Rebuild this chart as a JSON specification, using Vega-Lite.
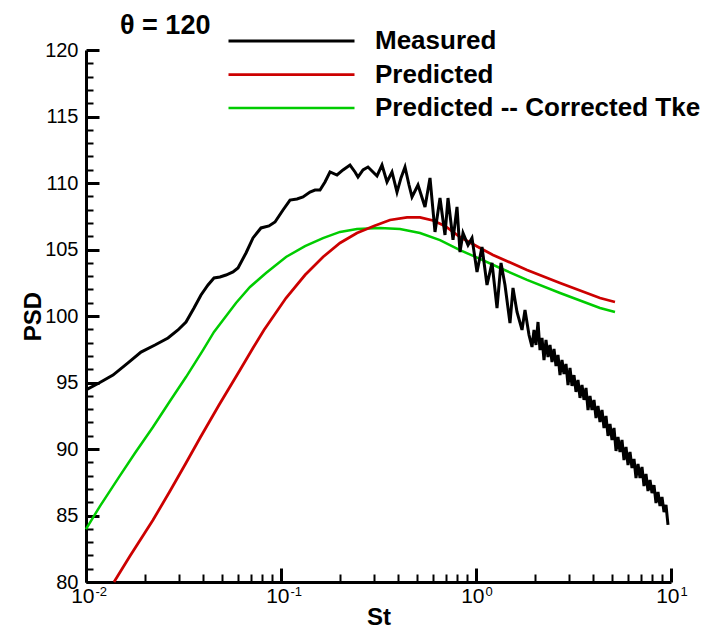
{
  "$schema": "https://vega.github.io/schema/vega-lite/v6.json",
  "width": 585,
  "height": 532,
  "autosize": {"type": "none"},
  "padding": {"left": 86, "top": 50, "right": 48, "bottom": 51},
  "background": "white",
  "title": {"text": "θ = 120", "anchor": "start", "frame": "group", "dx": 34, "dy": 22, "offset": 10, "fontSize": 27, "font": "Liberation Sans", "fontWeight": "bold", "color": "black"},
  "config": {
    "view": {"stroke": null},
    "axis": {"labelFont": "Liberation Sans", "titleFont": "Liberation Sans", "labelColor": "black", "titleColor": "black", "domainColor": "black", "grid": false}
  },
  "data": {"values": [
    {"s":"Predicted -- Corrected Tke","St":0.01,"PSD":83.98},
    {"s":"Predicted -- Corrected Tke","St":0.0118,"PSD":85.71},
    {"s":"Predicted -- Corrected Tke","St":0.01476,"PSD":87.89},
    {"s":"Predicted -- Corrected Tke","St":0.01784,"PSD":89.7},
    {"s":"Predicted -- Corrected Tke","St":0.02206,"PSD":91.65},
    {"s":"Predicted -- Corrected Tke","St":0.02697,"PSD":93.61},
    {"s":"Predicted -- Corrected Tke","St":0.03257,"PSD":95.41},
    {"s":"Predicted -- Corrected Tke","St":0.03981,"PSD":97.44},
    {"s":"Predicted -- Corrected Tke","St":0.04533,"PSD":98.8},
    {"s":"Predicted -- Corrected Tke","St":0.05878,"PSD":100.98},
    {"s":"Predicted -- Corrected Tke","St":0.06934,"PSD":102.18},
    {"s":"Predicted -- Corrected Tke","St":0.08377,"PSD":103.23},
    {"s":"Predicted -- Corrected Tke","St":0.1061,"PSD":104.44},
    {"s":"Predicted -- Corrected Tke","St":0.1328,"PSD":105.26},
    {"s":"Predicted -- Corrected Tke","St":0.1642,"PSD":105.86},
    {"s":"Predicted -- Corrected Tke","St":0.2007,"PSD":106.32},
    {"s":"Predicted -- Corrected Tke","St":0.2453,"PSD":106.54},
    {"s":"Predicted -- Corrected Tke","St":0.3219,"PSD":106.62},
    {"s":"Predicted -- Corrected Tke","St":0.4076,"PSD":106.54},
    {"s":"Predicted -- Corrected Tke","St":0.5162,"PSD":106.24},
    {"s":"Predicted -- Corrected Tke","St":0.6537,"PSD":105.71},
    {"s":"Predicted -- Corrected Tke","St":0.8279,"PSD":104.96},
    {"s":"Predicted -- Corrected Tke","St":1.048,"PSD":104.29},
    {"s":"Predicted -- Corrected Tke","St":1.328,"PSD":103.61},
    {"s":"Predicted -- Corrected Tke","St":1.826,"PSD":102.71},
    {"s":"Predicted -- Corrected Tke","St":2.697,"PSD":101.73},
    {"s":"Predicted -- Corrected Tke","St":4.324,"PSD":100.6},
    {"s":"Predicted -- Corrected Tke","St":5.162,"PSD":100.3},
    {"s":"Predicted","St":0.01392,"PSD":80.0},
    {"s":"Predicted","St":0.01681,"PSD":81.95},
    {"s":"Predicted","St":0.02206,"PSD":84.66},
    {"s":"Predicted","St":0.02697,"PSD":86.84},
    {"s":"Predicted","St":0.03257,"PSD":88.95},
    {"s":"Predicted","St":0.03842,"PSD":90.83},
    {"s":"Predicted","St":0.0481,"PSD":93.31},
    {"s":"Predicted","St":0.06163,"PSD":95.94},
    {"s":"Predicted","St":0.07185,"PSD":97.59},
    {"s":"Predicted","St":0.0818,"PSD":98.95},
    {"s":"Predicted","St":0.1061,"PSD":101.35},
    {"s":"Predicted","St":0.1328,"PSD":103.08},
    {"s":"Predicted","St":0.1642,"PSD":104.44},
    {"s":"Predicted","St":0.2007,"PSD":105.49},
    {"s":"Predicted","St":0.2453,"PSD":106.24},
    {"s":"Predicted","St":0.2999,"PSD":106.77},
    {"s":"Predicted","St":0.3622,"PSD":107.22},
    {"s":"Predicted","St":0.4428,"PSD":107.41},
    {"s":"Predicted","St":0.5162,"PSD":107.41},
    {"s":"Predicted","St":0.6018,"PSD":107.18},
    {"s":"Predicted","St":0.6934,"PSD":106.77},
    {"s":"Predicted","St":0.8279,"PSD":105.94},
    {"s":"Predicted","St":1.048,"PSD":105.11},
    {"s":"Predicted","St":1.222,"PSD":104.59},
    {"s":"Predicted","St":1.826,"PSD":103.46},
    {"s":"Predicted","St":2.697,"PSD":102.48},
    {"s":"Predicted","St":4.324,"PSD":101.35},
    {"s":"Predicted","St":5.162,"PSD":101.05},
    {"s":"Measured","St":0.01,"PSD":94.44},
    {"s":"Measured","St":0.011659,"PSD":94.96},
    {"s":"Measured","St":0.013754,"PSD":95.56},
    {"s":"Measured","St":0.016421,"PSD":96.47},
    {"s":"Measured","St":0.019145,"PSD":97.29},
    {"s":"Measured","St":0.022585,"PSD":97.82},
    {"s":"Measured","St":0.026335,"PSD":98.35},
    {"s":"Measured","St":0.029634,"PSD":98.95},
    {"s":"Measured","St":0.032572,"PSD":99.55},
    {"s":"Measured","St":0.035794,"PSD":100.6},
    {"s":"Measured","St":0.038882,"PSD":101.58},
    {"s":"Measured","St":0.042232,"PSD":102.33},
    {"s":"Measured","St":0.045333,"PSD":102.86},
    {"s":"Measured","St":0.048661,"PSD":102.93},
    {"s":"Measured","St":0.052235,"PSD":103.08},
    {"s":"Measured","St":0.05673,"PSD":103.31},
    {"s":"Measured","St":0.060184,"PSD":103.61},
    {"s":"Measured","St":0.06615,"PSD":104.74},
    {"s":"Measured","St":0.071847,"PSD":105.87},
    {"s":"Measured","St":0.078966,"PSD":106.62},
    {"s":"Measured","St":0.08678,"PSD":106.77},
    {"s":"Measured","St":0.093167,"PSD":107.07},
    {"s":"Measured","St":0.10239,"PSD":107.97},
    {"s":"Measured","St":0.11122,"PSD":108.72},
    {"s":"Measured","St":0.1208,"PSD":108.8},
    {"s":"Measured","St":0.12968,"PSD":108.95},
    {"s":"Measured","St":0.14083,"PSD":109.32},
    {"s":"Measured","St":0.14938,"PSD":109.47},
    {"s":"Measured","St":0.15849,"PSD":109.47},
    {"s":"Measured","St":0.16813,"PSD":110.08},
    {"s":"Measured","St":0.17835,"PSD":110.83},
    {"s":"Measured","St":0.19373,"PSD":110.6},
    {"s":"Measured","St":0.20795,"PSD":110.98},
    {"s":"Measured","St":0.22585,"PSD":111.35},
    {"s":"Measured","St":0.2396,"PSD":110.83},
    {"s":"Measured","St":0.24824,"PSD":110.45},
    {"s":"Measured","St":0.26335,"PSD":110.98},
    {"s":"Measured","St":0.27937,"PSD":111.2},
    {"s":"Measured","St":0.29634,"PSD":110.83},
    {"s":"Measured","St":0.31068,"PSD":110.53},
    {"s":"Measured","St":0.32957,"PSD":111.35},
    {"s":"Measured","St":0.34959,"PSD":110.08},
    {"s":"Measured","St":0.37091,"PSD":110.83},
    {"s":"Measured","St":0.39344,"PSD":109.32},
    {"s":"Measured","St":0.41245,"PSD":110.38},
    {"s":"Measured","St":0.43243,"PSD":111.2},
    {"s":"Measured","St":0.45333,"PSD":109.85},
    {"s":"Measured","St":0.46969,"PSD":108.95},
    {"s":"Measured","St":0.50415,"PSD":109.85},
    {"s":"Measured","St":0.54755,"PSD":108.2},
    {"s":"Measured","St":0.58093,"PSD":110.38},
    {"s":"Measured","St":0.61623,"PSD":106.32},
    {"s":"Measured","St":0.65368,"PSD":108.87},
    {"s":"Measured","St":0.69342,"PSD":106.09},
    {"s":"Measured","St":0.71847,"PSD":108.87},
    {"s":"Measured","St":0.76217,"PSD":105.72},
    {"s":"Measured","St":0.79902,"PSD":108.2},
    {"s":"Measured","St":0.82785,"PSD":104.81},
    {"s":"Measured","St":0.8577,"PSD":106.24},
    {"s":"Measured","St":0.90993,"PSD":105.34},
    {"s":"Measured","St":0.95385,"PSD":105.87},
    {"s":"Measured","St":1.0119,"PSD":103.31},
    {"s":"Measured","St":1.0734,"PSD":105.19},
    {"s":"Measured","St":1.1387,"PSD":102.33},
    {"s":"Measured","St":1.208,"PSD":103.99},
    {"s":"Measured","St":1.2815,"PSD":100.6},
    {"s":"Measured","St":1.3434,"PSD":103.99},
    {"s":"Measured","St":1.4082,"PSD":102.33},
    {"s":"Measured","St":1.4938,"PSD":99.47},
    {"s":"Measured","St":1.5479,"PSD":102.11},
    {"s":"Measured","St":1.6228,"PSD":100.3},
    {"s":"Measured","St":1.7215,"PSD":98.95},
    {"s":"Measured","St":1.7835,"PSD":100.45},
    {"s":"Measured","St":1.8699,"PSD":98.57},
    {"s":"Measured","St":1.9373,"PSD":97.67},
    {"s":"Measured","St":1.9836,"PSD":98.95},
    {"s":"Measured","St":2.031,"PSD":97.82},
    {"s":"Measured","St":2.0796,"PSD":99.55},
    {"s":"Measured","St":2.1292,"PSD":97.44},
    {"s":"Measured","St":2.1801,"PSD":98.35},
    {"s":"Measured","St":2.2319,"PSD":96.69},
    {"s":"Measured","St":2.2853,"PSD":98.2},
    {"s":"Measured","St":2.3403,"PSD":96.92},
    {"s":"Measured","St":2.3962,"PSD":97.82},
    {"s":"Measured","St":2.4533,"PSD":96.54},
    {"s":"Measured","St":2.5119,"PSD":97.52},
    {"s":"Measured","St":2.5719,"PSD":96.24},
    {"s":"Measured","St":2.6335,"PSD":97.07},
    {"s":"Measured","St":2.6964,"PSD":95.56},
    {"s":"Measured","St":2.7606,"PSD":96.69},
    {"s":"Measured","St":2.8266,"PSD":95.64},
    {"s":"Measured","St":2.8942,"PSD":96.39},
    {"s":"Measured","St":2.9634,"PSD":94.81},
    {"s":"Measured","St":3.0343,"PSD":96.09},
    {"s":"Measured","St":3.1068,"PSD":94.74},
    {"s":"Measured","St":3.181,"PSD":95.56},
    {"s":"Measured","St":3.2571,"PSD":94.29},
    {"s":"Measured","St":3.335,"PSD":95.19},
    {"s":"Measured","St":3.4147,"PSD":93.84},
    {"s":"Measured","St":3.4959,"PSD":94.81},
    {"s":"Measured","St":3.5795,"PSD":93.69},
    {"s":"Measured","St":3.6654,"PSD":94.59},
    {"s":"Measured","St":3.753,"PSD":92.93},
    {"s":"Measured","St":3.8426,"PSD":93.99},
    {"s":"Measured","St":3.9344,"PSD":92.93},
    {"s":"Measured","St":4.0285,"PSD":93.69},
    {"s":"Measured","St":4.1248,"PSD":92.33},
    {"s":"Measured","St":4.2232,"PSD":93.23},
    {"s":"Measured","St":4.3241,"PSD":92.03},
    {"s":"Measured","St":4.4278,"PSD":92.93},
    {"s":"Measured","St":4.5336,"PSD":91.58},
    {"s":"Measured","St":4.6416,"PSD":92.48},
    {"s":"Measured","St":4.7525,"PSD":90.98},
    {"s":"Measured","St":4.8661,"PSD":91.88},
    {"s":"Measured","St":4.9824,"PSD":90.68},
    {"s":"Measured","St":5.1016,"PSD":91.58},
    {"s":"Measured","St":5.2235,"PSD":89.85},
    {"s":"Measured","St":5.3482,"PSD":90.9},
    {"s":"Measured","St":5.476,"PSD":89.78},
    {"s":"Measured","St":5.6063,"PSD":90.68},
    {"s":"Measured","St":5.7403,"PSD":89.17},
    {"s":"Measured","St":5.8785,"PSD":90.15},
    {"s":"Measured","St":6.019,"PSD":88.8},
    {"s":"Measured","St":6.1623,"PSD":89.78},
    {"s":"Measured","St":6.3096,"PSD":88.57},
    {"s":"Measured","St":6.4604,"PSD":89.25},
    {"s":"Measured","St":6.615,"PSD":87.82},
    {"s":"Measured","St":6.7731,"PSD":88.87},
    {"s":"Measured","St":6.9342,"PSD":87.82},
    {"s":"Measured","St":7.0999,"PSD":88.65},
    {"s":"Measured","St":7.2699,"PSD":87.22},
    {"s":"Measured","St":7.4436,"PSD":88.12},
    {"s":"Measured","St":7.6217,"PSD":86.84},
    {"s":"Measured","St":7.8039,"PSD":87.67},
    {"s":"Measured","St":7.9902,"PSD":86.69},
    {"s":"Measured","St":8.1812,"PSD":87.29},
    {"s":"Measured","St":8.377,"PSD":85.94},
    {"s":"Measured","St":8.5772,"PSD":86.77},
    {"s":"Measured","St":8.7813,"PSD":85.72},
    {"s":"Measured","St":8.9912,"PSD":86.39},
    {"s":"Measured","St":9.2071,"PSD":85.26},
    {"s":"Measured","St":9.4271,"PSD":85.79},
    {"s":"Measured","St":9.652,"PSD":84.29}
  ]},
  "resolve": {"axis": {"x": "independent", "y": "independent"}},
  "layer": [
    {
      "mark": {"type": "point", "opacity": 0, "size": 0},
      "encoding": {
        "x": {"field": "St", "type": "quantitative", "scale": {"type": "log", "domain": [0.01, 10]},
          "axis": {"orient": "bottom", "values": [0.02,0.03,0.04,0.05,0.06,0.07,0.08,0.09,0.2,0.3,0.4,0.5,0.6,0.7,0.8,0.9,2,3,4,5,6,7,8,9], "labels": true, "labelOpacity": 0, "labelExpr": "''", "domain": false, "ticks": true, "tickSize": 8, "offset": -8, "tickWidth": 2, "tickColor": "#000000", "title": null}},
        "y": {"field": "PSD", "type": "quantitative", "scale": {"domain": [80, 120], "nice": false, "zero": false},
          "axis": {"orient": "left", "values": [81,82,83,84,86,87,88,89,91,92,93,94,96,97,98,99,101,102,103,104,106,107,108,109,111,112,113,114,116,117,118,119], "labels": true, "labelOpacity": 0, "labelExpr": "''", "domain": false, "ticks": true, "tickSize": 7, "offset": -7, "tickWidth": 2, "tickColor": "#000000", "title": null}}
      }
    },
    {
      "mark": {"type": "point", "opacity": 0, "size": 0},
      "encoding": {
        "x": {"field": "St", "type": "quantitative", "scale": {"type": "log", "domain": [0.01, 10]},
          "axis": {"orient": "bottom", "values": [0.01, 0.1, 1, 10], "labels": true, "labelOpacity": 0, "labelExpr": "''", "domain": false, "ticks": true, "tickSize": 14, "offset": -14, "tickWidth": 3, "tickColor": "#000000", "title": null}},
        "y": {"field": "PSD", "type": "quantitative", "scale": {"domain": [80, 120], "nice": false, "zero": false},
          "axis": {"orient": "left", "values": [80,85,90,95,100,105,110,115,120], "labels": true, "labelOpacity": 0, "labelExpr": "''", "domain": false, "ticks": true, "tickSize": 13, "offset": -13, "tickWidth": 3, "tickColor": "#000000", "title": null}}
      }
    },
    {
      "mark": {"type": "point", "opacity": 0, "size": 0},
      "encoding": {
        "x": {"field": "St", "type": "quantitative", "scale": {"type": "log", "domain": [0.01, 10]},
          "axis": {"orient": "bottom", "values": [0.01, 0.1, 1, 10], "labelExpr": "datum.value < 0.05 ? '-2' : datum.value < 0.5 ? '-1' : datum.value < 5 ? '0' : '1'", "ticks": false, "domain": false, "labelFontSize": 13, "labelAlign": "left", "labelBaseline": "top", "labelOffset": 9, "labelPadding": 3, "labelFlush": false, "labelOverlap": false, "title": null}},
        "y": {"field": "PSD", "type": "quantitative", "scale": {"domain": [80, 120], "nice": false, "zero": false}, "axis": null}
      }
    },
    {
      "mark": {"type": "line", "interpolate": "linear"},
      "encoding": {
        "x": {"field": "St", "type": "quantitative", "scale": {"type": "log", "domain": [0.01, 10]},
          "axis": {"orient": "bottom", "values": [0.01, 0.1, 1, 10], "labelExpr": "'10'", "ticks": false, "domainWidth": 3, "labelFontSize": 21, "labelAlign": "right", "labelBaseline": "top", "labelOffset": 8, "labelPadding": 3, "labelFlush": false, "labelOverlap": false, "title": "St", "titleFontSize": 24, "titleFontWeight": "bold", "titleBaseline": "alphabetic", "titleY": 42}},
        "y": {"field": "PSD", "type": "quantitative", "scale": {"domain": [80, 120], "nice": false, "zero": false},
          "axis": {"orient": "left", "values": [80,85,90,95,100,105,110,115,120], "ticks": false, "domainWidth": 3, "labelFontSize": 20, "labelPadding": 8, "labelFlush": false, "title": "PSD", "titleFontSize": 24, "titleFontWeight": "bold", "titleBaseline": "middle", "titleX": -53, "titleY": 266}},
        "color": {"field": "s", "type": "nominal",
          "scale": {"domain": ["Measured", "Predicted", "Predicted -- Corrected Tke"], "range": ["#000000", "#cc0000", "#00cc00"]},
          "legend": {"orient": "none", "legendX": 141, "legendY": -22, "title": null, "padding": 0, "symbolType": "stroke", "symbolSize": 15876, "symbolStrokeWidth": 3, "clipHeight": 26, "rowPadding": 7.5, "labelFontSize": 26, "labelFont": "Liberation Sans", "labelFontWeight": "bold", "labelColor": "black", "labelOffset": 19, "labelLimit": 600}},
        "strokeWidth": {"field": "s", "type": "nominal", "scale": {"domain": ["Measured", "Predicted", "Predicted -- Corrected Tke"], "range": [3, 2.5, 2.5]}, "legend": null}
      }
    }
  ]
}
